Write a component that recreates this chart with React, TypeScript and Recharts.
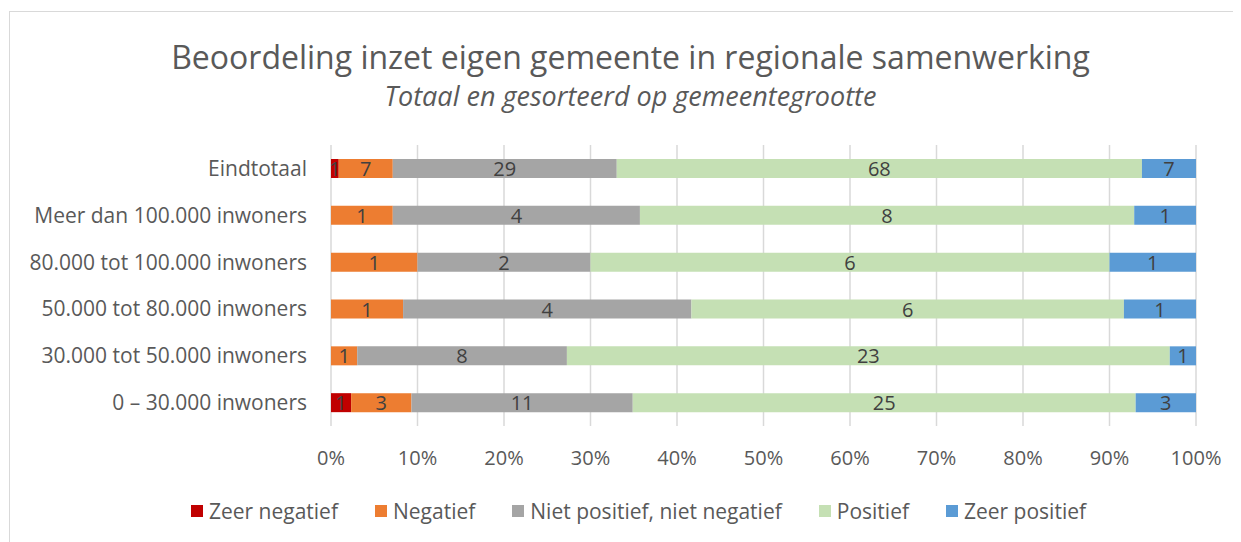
import React from 'react';
import { BarChart, Bar, XAxis, YAxis, CartesianGrid, Legend, LabelList } from 'recharts';

// categories, top to bottom
const categories = [
  'Eindtotaal',
  'Meer dan 100.000 inwoners',
  '80.000 tot 100.000 inwoners',
  '50.000 tot 80.000 inwoners',
  '30.000 tot 50.000 inwoners',
  '0 – 30.000 inwoners',
];

// aantallen per oordeel
const zeerNegatief = [1, 0, 0, 0, 0, 1];
const negatief = [7, 1, 1, 1, 1, 3];
const nietPosNietNeg = [29, 4, 2, 4, 8, 11];
const positief = [68, 8, 6, 6, 23, 25];
const zeerPositief = [7, 1, 1, 1, 1, 3];

const xTicks = [0, 0.1, 0.2, 0.3, 0.4, 0.5, 0.6, 0.7, 0.8, 0.9, 1];

const series = [
  { key: 'zeerNegatief', name: 'Zeer negatief', values: zeerNegatief },
  { key: 'negatief', name: 'Negatief', values: negatief },
  { key: 'neutraal', name: 'Niet positief, niet negatief', values: nietPosNietNeg },
  { key: 'positief', name: 'Positief', values: positief },
  { key: 'zeerPositief', name: 'Zeer positief', values: zeerPositief },
];

const COLORS: Record<string, string> = {
  zeerNegatief: '#C00000',
  negatief: '#ED7D31',
  neutraal: '#A5A5A5',
  positief: '#C5E0B4',
  zeerPositief: '#5B9BD5',
};

const FONT = '"Open Sans", sans-serif';
const TEXT = '#595959';

const data = categories.map((name, i) => {
  const row: Record<string, string | number> = { name };
  series.forEach((s) => {
    row[s.key] = s.values[i];
  });
  return row;
});

function LegendContent(props: any) {
  const items = [...(props.payload || [])];
  // keep the series order (recharts sorts by name otherwise)
  const order = series.map((s) => s.name);
  items.sort((a: any, b: any) => order.indexOf(a.value) - order.indexOf(b.value));
  return (
    <div style={{ display: 'flex', justifyContent: 'center', gap: 37, fontFamily: FONT, fontSize: 21, color: TEXT }}>
      {items.map((it: any) => (
        <div key={it.value} style={{ display: 'flex', alignItems: 'center' }}>
          <span style={{ display: 'inline-block', width: 12, height: 12, background: it.color, marginRight: 6 }} />
          <span>{it.value}</span>
        </div>
      ))}
    </div>
  );
}

function BarLabel(props: any) {
  const { x, y, width, height, value } = props;
  if (!value) return null;
  return (
    <text
      x={Number(x) + Number(width) / 2}
      y={Number(y) + Number(height) / 2}
      textAnchor="middle"
      dominantBaseline="central"
      fill="#404040"
      fontSize={20}
      fontFamily={FONT}
    >
      {value}
    </text>
  );
}

export default function App() {
  return (
    <div style={{ position: 'relative', width: 1233, height: 534, overflow: 'hidden', background: '#fff' }}>
      <div
        style={{
          position: 'absolute', left: 1, top: 3, width: 1400, height: 700,
          border: '1px solid #d9d9d9', boxSizing: 'border-box',
        }}
      />
      <div
        style={{
          position: 'absolute', left: 6, top: 29, width: 1233, textAlign: 'center',
          fontFamily: FONT, fontSize: 32, color: TEXT, lineHeight: '40px', whiteSpace: 'nowrap',
        }}
      >
        Beoordeling inzet eigen gemeente in regionale samenwerking
      </div>
      <div
        style={{
          position: 'absolute', left: 6, top: 70, width: 1233, textAlign: 'center',
          fontFamily: FONT, fontSize: 27, fontStyle: 'italic', color: TEXT, lineHeight: '36px', whiteSpace: 'nowrap',
        }}
      >
        Totaal en gesorteerd op gemeentegrootte
      </div>
      <BarChart
        width={1233}
        height={534}
        data={data}
        layout="vertical"
        stackOffset="expand"
        margin={{ top: 137, right: 45, bottom: 76, left: 0 }}
        style={{ position: 'absolute', left: 0, top: 0 }}
      >
        <CartesianGrid horizontal={false} stroke="#d9d9d9" strokeWidth={1.5} />
        <XAxis
          type="number"
          domain={[0, 1]}
          ticks={xTicks}
          tickFormatter={(v: number) => `${Math.round(v * 100)}%`}
          axisLine={false}
          tickLine={false}
          tickMargin={19}
          height={40}
          tick={{ fill: TEXT, fontSize: 20, fontFamily: FONT }}
          interval={0}
        />
        <YAxis
          type="category"
          dataKey="name"
          width={323}
          axisLine={false}
          tickLine={false}
          tickMargin={18}
          tick={{ fill: TEXT, fontSize: 21, fontFamily: FONT }}
          interval={0}
        />
        <Legend
          verticalAlign="middle"
          content={<LegendContent />}
          wrapperStyle={{ top: 489, left: 14, width: 1233 }}
        />
        {series.map((s) => (
          <Bar key={s.key} dataKey={s.key} name={s.name} stackId="a" fill={COLORS[s.key]} barSize={19} isAnimationActive={false}>
            <LabelList dataKey={s.key} content={<BarLabel />} />
          </Bar>
        ))}
      </BarChart>
    </div>
  );
}
